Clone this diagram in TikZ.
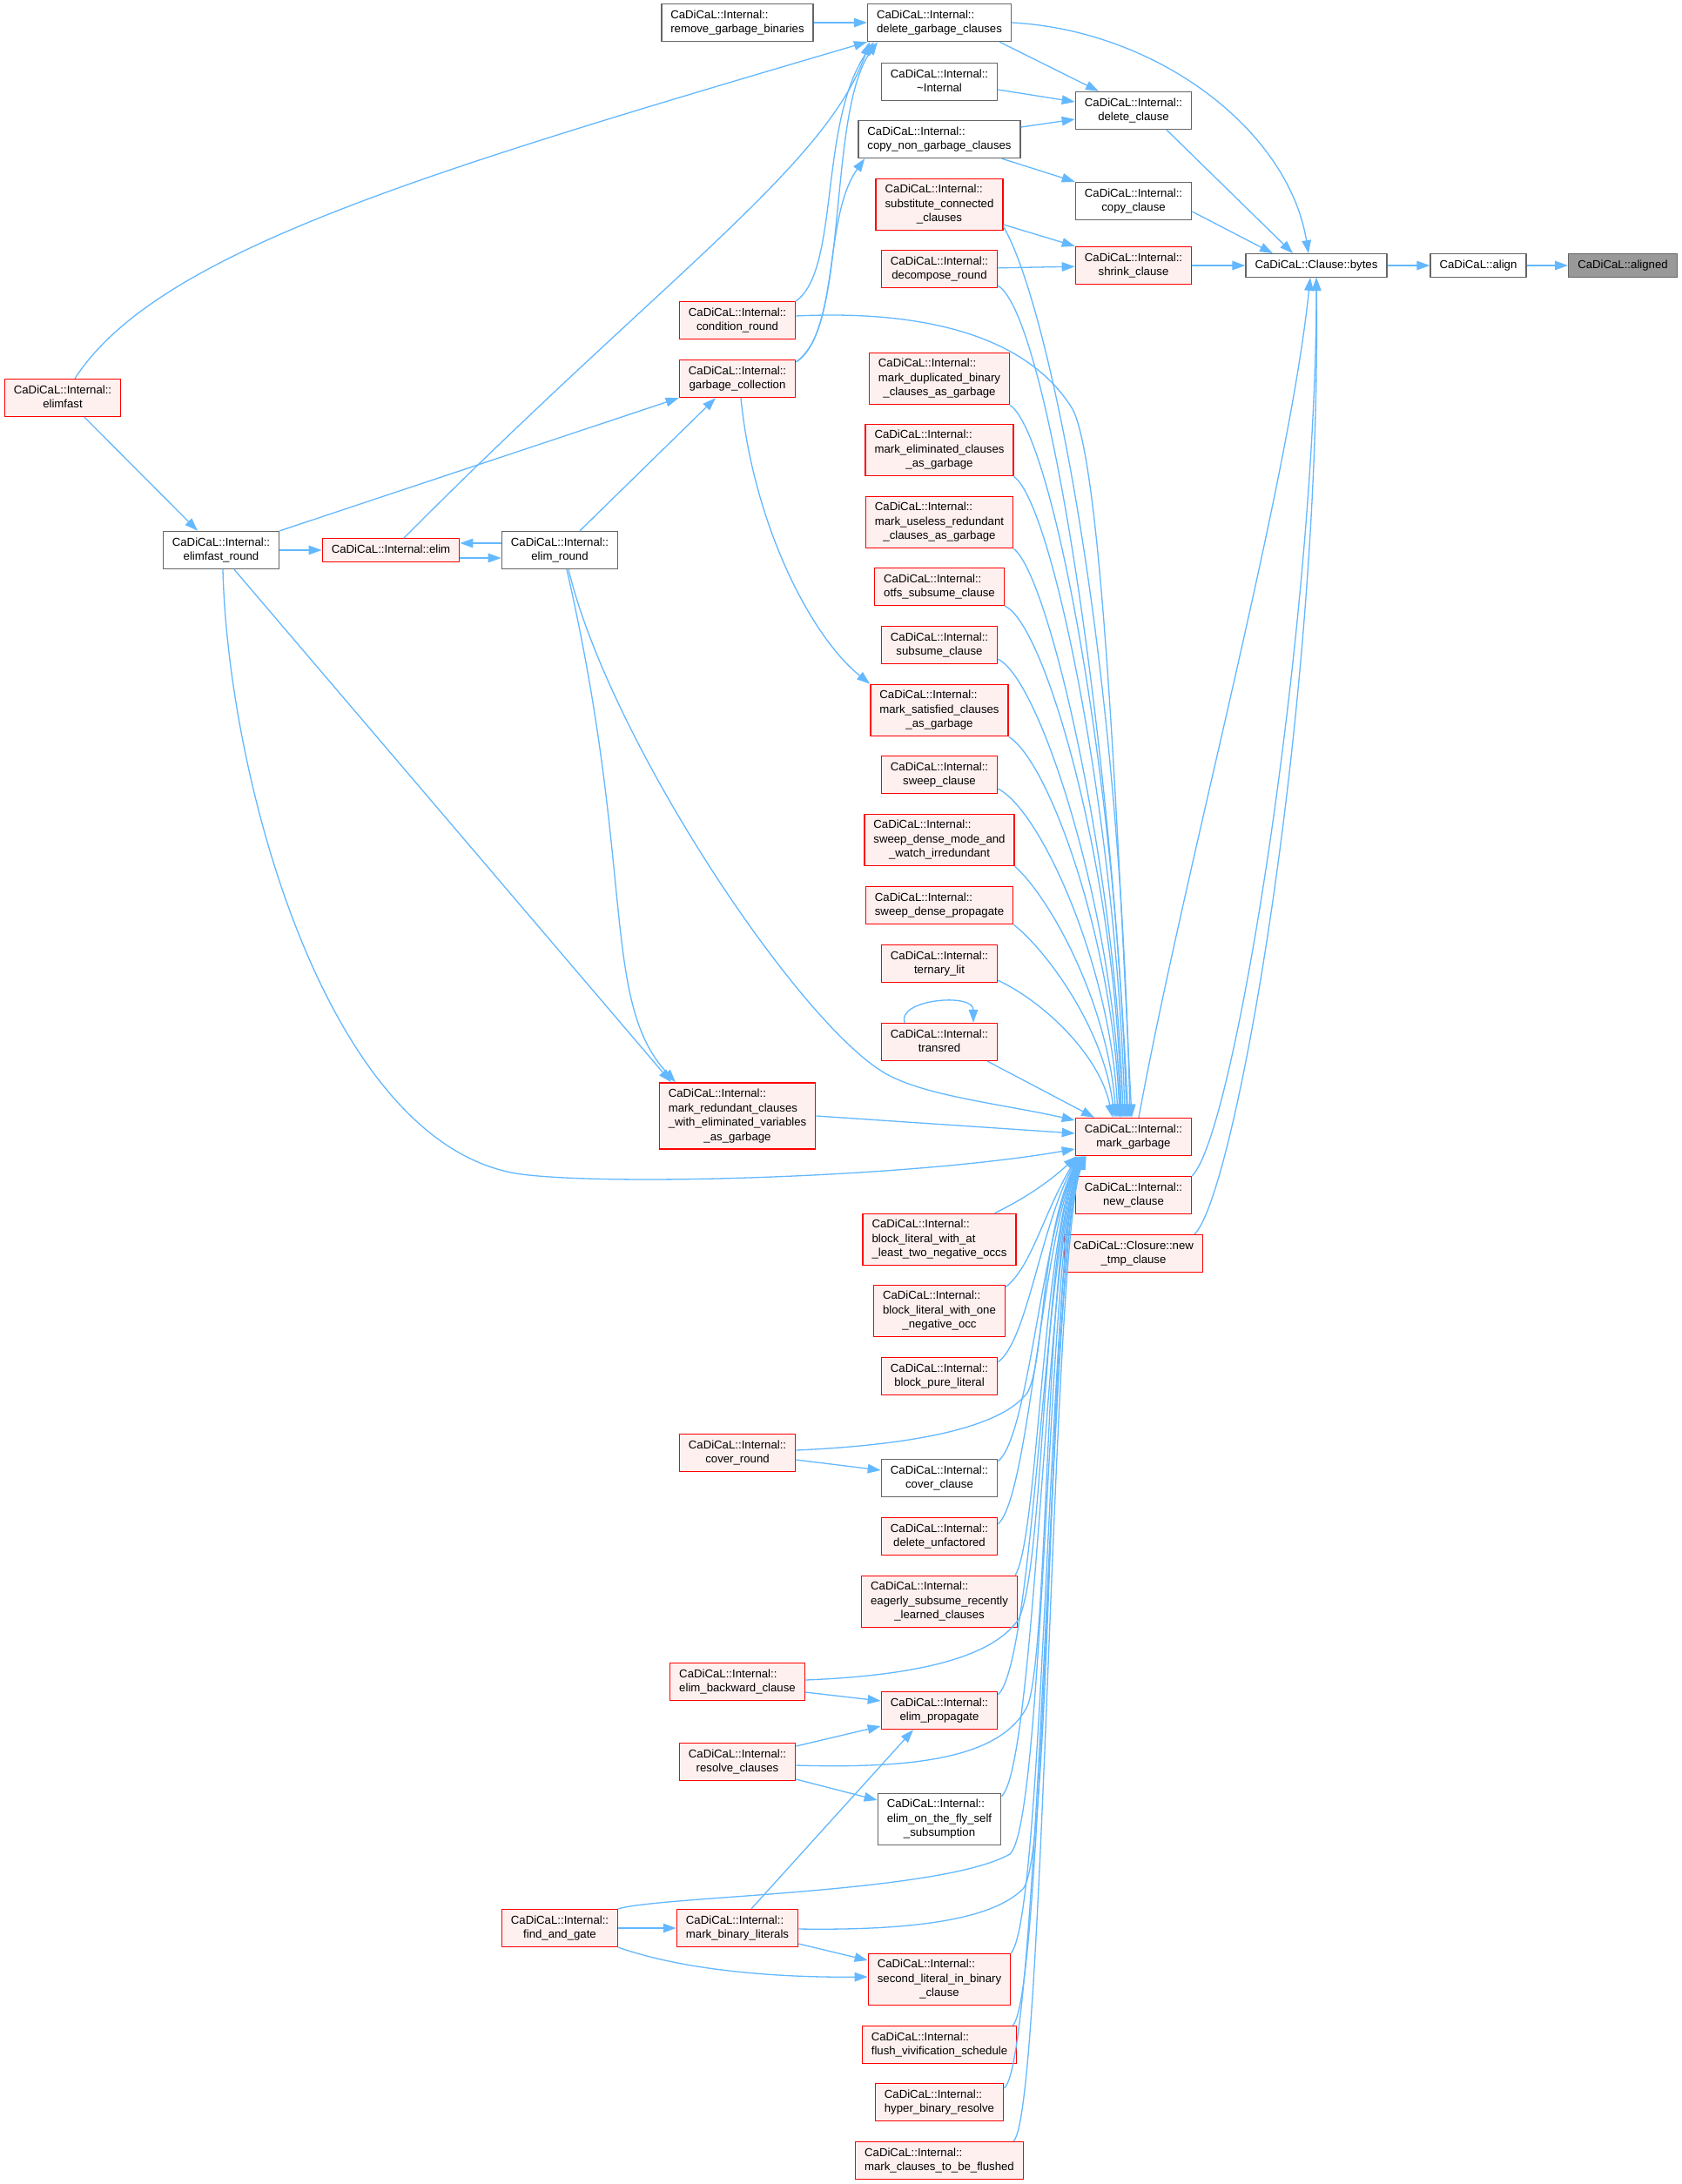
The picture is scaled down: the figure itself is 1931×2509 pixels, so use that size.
\documentclass[tikz,border=0pt]{standalone}
\usepackage{fontspec}
\setmainfont{Liberation Sans}
\usetikzlibrary{arrows.meta}
\definecolor{edgeblue}{HTML}{63B8FF}
\definecolor{nodegray}{HTML}{666666}
\definecolor{hotfill}{HTML}{FFF0F0}
\definecolor{rootfill}{HTML}{999999}
% first lines left, last line centred
\newcommand{\fnlabel}[2]{\begin{tabular}{@{}l@{}}#1\\\multicolumn{1}{@{}c@{}}{#2}\end{tabular}}
\newcommand{\fnone}[1]{\begin{tabular}{@{}c@{}}#1\end{tabular}}

\begin{document}
\begin{tikzpicture}[x=1pt, y=-1pt,
    box/.style={rectangle, draw=nodegray, fill=white, line width=1.4pt, inner xsep=10.5pt, inner ysep=5pt, font=\fontsize{13.2}{16.5}\selectfont},
    hot/.style={box, draw=red, fill=hotfill},
    root/.style={box, fill=rootfill},
    arrow/.style={draw=edgeblue, line width=1.3pt, -{Triangle[length=15pt, width=10.5pt]}}
]
\useasboundingbox (0,0) rectangle (1931,2509);
\fill[white] (0,0) rectangle (1931,2509);

% Top: clause handling
\node[box] (rgb) at (847,26) {\fnlabel{CaDiCaL::Internal::}{remove\_garbage\_binaries}};
\node[box] (dgc) at (1079,26) {\fnlabel{CaDiCaL::Internal::}{delete\_garbage\_clauses}};
\node[box] (dtor) at (1079,94) {\fnlabel{CaDiCaL::Internal::}{\textasciitilde Internal}};
\node[box] (dclause) at (1302,127) {\fnlabel{CaDiCaL::Internal::}{delete\_clause}};
\node[box] (cng) at (1079,160) {\fnlabel{CaDiCaL::Internal::}{copy\_non\_garbage\_clauses}};
\node[box] (cclause) at (1302,231) {\fnlabel{CaDiCaL::Internal::}{copy\_clause}};
\node[hot] (subst) at (1079,235) {\fnlabel{CaDiCaL::Internal::\\substitute\_connected}{\_clauses}};
\node[hot] (shrink) at (1302,305) {\fnlabel{CaDiCaL::Internal::}{shrink\_clause}};
\node[hot] (decomp) at (1079,309) {\fnlabel{CaDiCaL::Internal::}{decompose\_round}};
\node[box] (bytes) at (1512,305) {\fnone{CaDiCaL::Clause::bytes}};
\node[box] (align) at (1698,305) {\fnone{CaDiCaL::align}};
\node[root] (aligned) at (1864,305) {\fnone{CaDiCaL::aligned}};

% Left: elimination
\node[hot] (cond) at (847,368) {\fnlabel{CaDiCaL::Internal::}{condition\_round}};
\node[hot] (gc) at (847,435) {\fnlabel{CaDiCaL::Internal::}{garbage\_collection}};
\node[hot] (elimfast) at (72,457) {\fnlabel{CaDiCaL::Internal::}{elimfast}};
\node[box] (efr) at (254,632) {\fnlabel{CaDiCaL::Internal::}{elimfast\_round}};
\node[hot] (elim) at (449,632) {\fnone{CaDiCaL::Internal::elim}};
\node[box] (er) at (643,632) {\fnlabel{CaDiCaL::Internal::}{elim\_round}};
\node[hot] (mred) at (847,1282) {\fnlabel{CaDiCaL::Internal::\\mark\_redundant\_clauses\\\_with\_eliminated\_variables}{\_as\_garbage}};

% Middle column above mark_garbage
\node[hot] (mdup) at (1079,435) {\fnlabel{CaDiCaL::Internal::\\mark\_duplicated\_binary}{\_clauses\_as\_garbage}};
\node[hot] (melim) at (1079,517) {\fnlabel{CaDiCaL::Internal::\\mark\_eliminated\_clauses}{\_as\_garbage}};
\node[hot] (museless) at (1079,600) {\fnlabel{CaDiCaL::Internal::\\mark\_useless\_redundant}{\_clauses\_as\_garbage}};
\node[hot] (otfs) at (1079,674) {\fnlabel{CaDiCaL::Internal::}{otfs\_subsume\_clause}};
\node[hot] (subsume) at (1079,741) {\fnlabel{CaDiCaL::Internal::}{subsume\_clause}};
\node[hot] (msat) at (1079,816) {\fnlabel{CaDiCaL::Internal::\\mark\_satisfied\_clauses}{\_as\_garbage}};
\node[hot] (sweepc) at (1079,890) {\fnlabel{CaDiCaL::Internal::}{sweep\_clause}};
\node[hot] (sweepdm) at (1079,965) {\fnlabel{CaDiCaL::Internal::\\sweep\_dense\_mode\_and}{\_watch\_irredundant}};
\node[hot] (sweepdp) at (1079,1040) {\fnlabel{CaDiCaL::Internal::}{sweep\_dense\_propagate}};
\node[hot] (ternary) at (1079,1107) {\fnlabel{CaDiCaL::Internal::}{ternary\_lit}};
\node[hot] (transred) at (1079,1197) {\fnlabel{CaDiCaL::Internal::}{transred}};

% Right: mark_garbage and clause allocation
\node[hot] (mg) at (1302,1306) {\fnlabel{CaDiCaL::Internal::}{mark\_garbage}};
\node[hot] (newc) at (1302,1373) {\fnlabel{CaDiCaL::Internal::}{new\_clause}};
\node[hot] (newtmp) at (1302,1440) {\fnlabel{CaDiCaL::Closure::new}{\_tmp\_clause}};

% Middle column below mark_garbage
\node[hot] (blat) at (1079,1424) {\fnlabel{CaDiCaL::Internal::\\block\_literal\_with\_at}{\_least\_two\_negative\_occs}};
\node[hot] (blone) at (1079,1506) {\fnlabel{CaDiCaL::Internal::\\block\_literal\_with\_one}{\_negative\_occ}};
\node[hot] (blpure) at (1079,1581) {\fnlabel{CaDiCaL::Internal::}{block\_pure\_literal}};
\node[hot] (coverr) at (847,1669) {\fnlabel{CaDiCaL::Internal::}{cover\_round}};
\node[box] (coverc) at (1079,1698) {\fnlabel{CaDiCaL::Internal::}{cover\_clause}};
\node[hot] (delunf) at (1079,1765) {\fnlabel{CaDiCaL::Internal::}{delete\_unfactored}};
\node[hot] (eager) at (1079,1840) {\fnlabel{CaDiCaL::Internal::\\eagerly\_subsume\_recently}{\_learned\_clauses}};
\node[hot] (ebc) at (847,1932) {\fnlabel{CaDiCaL::Internal::}{elim\_backward\_clause}};
\node[hot] (eprop) at (1079,1965) {\fnlabel{CaDiCaL::Internal::}{elim\_propagate}};
\node[hot] (resolve) at (847,2024) {\fnlabel{CaDiCaL::Internal::}{resolve\_clauses}};
\node[box] (eotf) at (1079,2090) {\fnlabel{CaDiCaL::Internal::\\elim\_on\_the\_fly\_self}{\_subsumption}};
\node[hot] (fag) at (643,2215) {\fnlabel{CaDiCaL::Internal::}{find\_and\_gate}};
\node[hot] (mbl) at (847,2215) {\fnlabel{CaDiCaL::Internal::}{mark\_binary\_literals}};
\node[hot] (slib) at (1079,2274) {\fnlabel{CaDiCaL::Internal::\\second\_literal\_in\_binary}{\_clause}};
\node[hot] (flush) at (1079,2349) {\fnlabel{CaDiCaL::Internal::}{flush\_vivification\_schedule}};
\node[hot] (hyper) at (1079,2415) {\fnlabel{CaDiCaL::Internal::}{hyper\_binary\_resolve}};
\node[hot] (mctbf) at (1079,2482) {\fnlabel{CaDiCaL::Internal::}{mark\_clauses\_to\_be\_flushed}};

% Arrows into bytes / align / aligned
\draw[arrow] (align) -- (aligned);
\draw[arrow] (bytes) -- (align);
\draw[arrow] (shrink) -- (bytes);
\draw[arrow] (dgc.east) .. controls (1330,35) and (1480,150) .. ([xshift=-9pt]bytes.north);
\draw[arrow] ([xshift=38pt]dclause.south) -- ([xshift=-27pt]bytes.north);
\draw[arrow] ([yshift=-12pt]cclause.east) -- ([xshift=-50pt]bytes.north);
\draw[arrow] ([xshift=6pt]mg.north) .. controls (1360,1000) and (1480,560) .. ([xshift=-7pt]bytes.south);
\draw[arrow] (newc.north east) .. controls (1420,1300) and (1512,700) .. (bytes.south);
\draw[arrow] ([xshift=-10pt]newtmp.north east) .. controls (1420,1370) and (1518,800) .. (bytes.south);

% Top clause handling
\draw[arrow] (rgb) -- (dgc);
\draw[arrow] ([xshift=-14pt]dgc.south east) -- ([xshift=-40pt]dclause.north);
\draw[arrow] ([yshift=-9pt]dtor.east) -- ([yshift=10pt]dclause.west);
\draw[arrow] ([yshift=14pt]cng.east) -- ([yshift=-10pt]dclause.west);
\draw[arrow] ([xshift=-22pt]cng.south east) -- (cclause.north west);
\draw[arrow] ([yshift=-23pt]subst.east) -- (shrink.north west);
\draw[arrow] (decomp) -- (shrink);

% Callers of delete_garbage_clauses
\draw[arrow] ([xshift=14pt]elimfast.north) .. controls (180,290) and (480,200) .. (dgc.south west);
\draw[arrow] ([xshift=15pt]elim.north) .. controls (760,320) and (950,190) .. ([xshift=3pt]dgc.south west);
\draw[arrow] (cond.north east) .. controls (965,310) and (940,140) .. ([xshift=8pt]dgc.south west);
\draw[arrow] ([yshift=-3pt]gc.north east) .. controls (975,380) and (950,130) .. ([xshift=12pt]dgc.south west);
\draw[arrow] ([yshift=-3pt]gc.north east) .. controls (965,380) and (945,250) .. ([xshift=8pt]cng.south west);

% Elimination rounds
\draw[arrow] ([xshift=25pt]elimfast.south) -- ([xshift=-27pt]efr.north);
\draw[arrow] (efr) -- (elim);
\draw[arrow] (efr.north east) -- (gc.south west);
\draw[arrow] ([xshift=23pt]er.north) -- ([xshift=-25pt]gc.south);
\draw[arrow] ([yshift=8pt]er.west) -- ([yshift=8pt]elim.east);
\draw[arrow] ([yshift=-9pt]elim.east) -- ([yshift=-9pt]er.west);
\draw[arrow] ([xshift=4pt]gc.south) .. controls (865,600) and (930,730) .. (msat.north west);
\draw[arrow] ([xshift=15pt]efr.south) -- ([xshift=-76pt]mred.north);
\draw[arrow] ([xshift=8pt]er.south) .. controls (730,1000) and (690,1150) .. ([xshift=-71pt]mred.north);
\draw[arrow] ([xshift=10pt]er.south) .. controls (700,850) and (915,1172) .. (1015,1232) .. controls (1060,1259) and (1150,1268) .. ([yshift=19pt]mg.west);
\draw[arrow] ([xshift=2pt]efr.south) .. controls (262,900) and (380,1330) .. (608,1350) .. controls (720,1362) and (1050,1352) .. ([yshift=-14pt]mg.west);
\draw[arrow] (mred.east) -- ([yshift=4pt]mg.west);

% Callers of mark_garbage from above
\draw[arrow] ([yshift=5pt]subst.south east) .. controls (1200,340) and (1285,720) .. ([xshift=-4pt]mg.north);
\draw[arrow] ([yshift=3pt]decomp.south east) .. controls (1200,360) and (1272,800) .. ([xshift=-6pt]mg.north);
\draw[arrow] ([yshift=5pt]cond.east) .. controls (1060,356) and (1180,385) .. (1232,470) .. controls (1268,540) and (1285,1000) .. ([xshift=-2pt]mg.north);
\draw[arrow] (mdup.south east) .. controls (1210,500) and (1283,900) .. ([xshift=-8pt]mg.north);
\draw[arrow] (melim.south east) .. controls (1210,580) and (1283,950) .. ([xshift=-10pt]mg.north);
\draw[arrow] (museless.south east) .. controls (1205,660) and (1282,1000) .. ([xshift=-12pt]mg.north);
\draw[arrow] (otfs.south east) .. controls (1200,715) and (1282,1000) .. ([xshift=-14pt]mg.north);
\draw[arrow] ([yshift=6pt]subsume.south east) .. controls (1195,780) and (1280,1050) .. ([xshift=-15pt]mg.north);
\draw[arrow] (msat.south east) .. controls (1205,875) and (1278,1080) .. ([xshift=-16pt]mg.north);
\draw[arrow] ([yshift=6pt]sweepc.south east) .. controls (1195,930) and (1276,1110) .. ([xshift=-18pt]mg.north);
\draw[arrow] (sweepdm.south east) .. controls (1205,1030) and (1272,1150) .. ([xshift=-20pt]mg.north);
\draw[arrow] (sweepdp.south east) .. controls (1200,1090) and (1268,1180) .. ([xshift=-22pt]mg.north);
\draw[arrow] ([yshift=3pt]ternary.south east) .. controls (1197,1150) and (1262,1210) .. ([xshift=-24pt]mg.north);
\draw[arrow] ([xshift=-12pt]transred.south east) -- ([xshift=-45pt]mg.north);
\draw[arrow] ([xshift=-40pt]transred.north) .. controls (1030,1148) and (1118,1140) .. ([xshift=39pt]transred.north);

% Callers of mark_garbage from below
\draw[arrow] ([xshift=-25pt]blat.north east) .. controls (1175,1378) and (1205,1358) .. ([xshift=2pt]mg.south west);
\draw[arrow] ([yshift=-3pt]blone.north east) .. controls (1185,1455) and (1198,1395) .. ([xshift=3pt]mg.south west);
\draw[arrow] ([yshift=-6pt]blpure.north east) .. controls (1180,1540) and (1195,1410) .. ([xshift=4pt]mg.south west);
\draw[arrow] ([yshift=3pt]coverr.east) .. controls (1050,1660) and (1150,1640) .. (1180,1600) .. controls (1200,1565) and (1195,1420) .. ([xshift=5pt]mg.south west);
\draw[arrow] ([yshift=-3pt]coverc.north east) .. controls (1182,1650) and (1196,1420) .. ([xshift=6pt]mg.south west);
\draw[arrow] ([yshift=-8pt]delunf.north east) .. controls (1182,1720) and (1197,1420) .. ([xshift=7pt]mg.south west);
\draw[arrow] ([xshift=-3pt]eager.north east) .. controls (1192,1770) and (1198,1420) .. ([xshift=8pt]mg.south west);
\draw[arrow] ([yshift=2pt]ebc.east) .. controls (1050,1925) and (1140,1905) .. (1170,1860) .. controls (1200,1800) and (1198,1420) .. ([xshift=8pt]mg.south west);
\draw[arrow] ([yshift=-4pt]eprop.north east) .. controls (1188,1910) and (1200,1420) .. ([xshift=9pt]mg.south west);
\draw[arrow] ([yshift=-4pt]resolve.east) .. controls (1050,2032) and (1150,2020) .. (1180,1960) .. controls (1205,1900) and (1200,1420) .. ([xshift=9pt]mg.south west);
\draw[arrow] ([yshift=-4pt]eotf.north east) .. controls (1190,2030) and (1202,1420) .. ([xshift=10pt]mg.south west);
\draw[arrow] (fag.north east) .. controls (760,2178) and (1080,2175) .. (1160,2130) .. controls (1200,2095) and (1203,1420) .. ([xshift=10pt]mg.south west);
\draw[arrow] ([yshift=-1pt]mbl.east) .. controls (1050,2218) and (1140,2205) .. (1175,2170) .. controls (1210,2130) and (1203,1420) .. ([xshift=11pt]mg.south west);
\draw[arrow] (slib.north east) .. controls (1200,2200) and (1205,1420) .. ([xshift=11pt]mg.south west);
\draw[arrow] ([xshift=-5pt]flush.north east) .. controls (1200,2290) and (1206,1420) .. ([xshift=12pt]mg.south west);
\draw[arrow] ([yshift=-6pt]hyper.north east) .. controls (1195,2370) and (1207,1420) .. ([xshift=12pt]mg.south west);
\draw[arrow] ([xshift=-12pt]mctbf.north east) .. controls (1200,2430) and (1208,1420) .. ([xshift=13pt]mg.south west);

% Lower helpers
\draw[arrow] ([yshift=-8pt]coverr.east) -- ([yshift=9pt]coverc.west);
\draw[arrow] ([yshift=-12pt]ebc.east) -- ([yshift=11pt]eprop.west);
\draw[arrow] ([yshift=18pt]resolve.east) -- ([yshift=-18pt]eprop.west);
\draw[arrow] ([yshift=-20pt]resolve.east) -- ([yshift=22pt]eotf.west);
\draw[arrow] ([xshift=16pt]mbl.north) -- ([xshift=-30pt]eprop.south);
\draw[arrow] (fag) -- (mbl);
\draw[arrow] (fag.south east) .. controls (790,2265) and (900,2272) .. ([yshift=3pt]slib.west);
\draw[arrow] ([yshift=-18pt]mbl.east) -- ([yshift=22pt]slib.west);

\end{tikzpicture}
\end{document}
